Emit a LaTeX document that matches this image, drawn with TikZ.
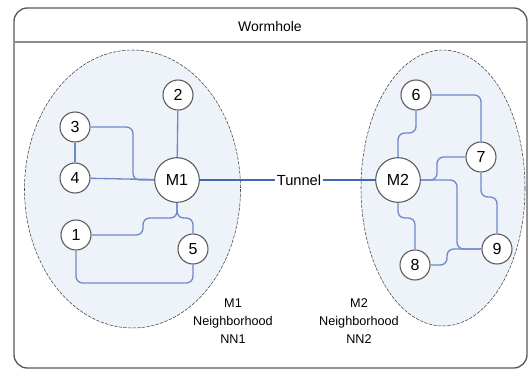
\documentclass[tikz,border=0pt]{standalone}
\usepackage{fontspec}
\setmainfont{Liberation Sans}
\usepackage{xcolor}
\usepackage{tikz}
\usetikzlibrary{positioning}

\definecolor{linkblue}{HTML}{6F89C8}
\definecolor{tunnelblue}{HTML}{4068B4}
\definecolor{hoodfill}{HTML}{EEF2F9}

\begin{document}
\begin{tikzpicture}[
        x=0.75pt, y=-0.75pt,
        peer/.style={circle, draw=black!65, thick, fill=white, minimum size=22.5pt, inner sep=0pt, font=\fontsize{12}{12}\selectfont},
        master/.style={circle, draw=black!65, thick, fill=white, minimum size=33.5pt, inner sep=0pt, font=\fontsize{12}{12}\selectfont},
        hood/.style={draw=black!75, dash pattern=on 2.5pt off 1pt, fill=hoodfill},
        link/.style={draw=linkblue, line width=1pt, rounded corners=5pt},
        tunnelline/.style={draw=tunnelblue, line width=2pt},
        hoodlabel/.style={align=center, font=\fontsize{9.5}{13.5}\selectfont}
    ]
    \useasboundingbox (0,0) rectangle (528,372);

    % Frame
    \draw[black!65, line width=1pt, rounded corners=10pt] (14,8) rectangle (527,368);
    \draw[black!45, line width=1pt] (14,42) -- (527,42);
    \node (title) at (270,26) {\fontsize{10.5}{12}\selectfont Wormhole};

    % Neighborhoods
    \draw[hood] (132.5,189) ellipse [x radius=108, y radius=139];
    \draw[hood] (443,188) ellipse [x radius=82, y radius=138];

    % Left neighborhood nodes
    \node (m1) [master] at (177,180) {M1};
    \node (n2) [peer] at (178,95) {2};
    \node (n3) [peer] at (75,127) {3};
    \node (n4) [peer] at (75,178) {4};
    \node (n1) [peer] at (76,235) {1};
    \node (n5) [peer] at (193,249) {5};

    % Right neighborhood nodes
    \node (m2) [master] at (398,180) {M2};
    \node (n6) [peer] at (416,95) {6};
    \node (n7) [peer] at (481,157) {7};
    \node (n9) [peer] at (497,249) {9};
    \node (n8) [peer] at (415,265) {8};

    % Tunnel
    \node (tunnel) [inner sep=1pt, font=\fontsize{11}{12}\selectfont] at (299,180) {Tunnel};
    \draw[tunnelline] (m1) -- (tunnel);
    \draw[tunnelline] (tunnel) -- (m2);

    % Left links
    \draw[link] (n2) -- (m1);
    \draw[link] (n3) -- (n4);
    \draw[link] (n4) -- (m1);
    \draw[link] (n3) -| (133,180) -- (m1);
    \draw[link] (m1) |- (143,218) |- (n1);
    \draw[link] (m1) |- (193,218) -- (n5);
    \draw[link] (n1) |- (193,283) -- (n5);

    % Right links
    \draw[link] (n6) -| (n7);
    \draw[link] (n6) |- (398,133) -- (m2);
    \draw[link] (m2) -- (457,180) |- (n9);
    \draw[link] (m2) -- (437,180) |- (n7);
    \draw[link] (n7) |- (497,197) -- (n9);
    \draw[link] (m2) |- (415,218) -- (n8);
    \draw[link] (n8) -| (447,249) -- (n9);

    % Labels
    \node (nn1) [hoodlabel] at (233,321) {M1\\Neighborhood\\NN1};
    \node (nn2) [hoodlabel] at (359,321) {M2\\Neighborhood\\NN2};

\end{tikzpicture}
\end{document}
